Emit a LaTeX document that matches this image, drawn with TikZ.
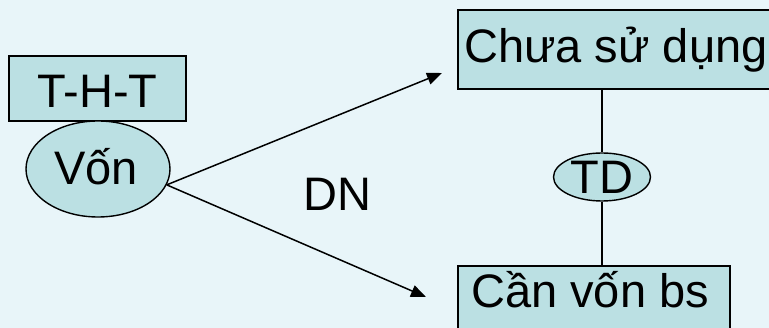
\documentclass[tikz,border=0pt]{standalone}
\usepackage{fontspec}
\setmainfont{Liberation Sans}
\usetikzlibrary{shapes.geometric,arrows.meta}
\definecolor{bgc}{RGB}{232,245,249}
\definecolor{fillc}{RGB}{187,224,227}
\tikzset{
  boxnode/.style={draw=black, line width=2.4pt, fill=fillc, inner sep=0pt},
  ellnode/.style={ellipse, draw=black, line width=1.4pt, fill=fillc, inner sep=0pt},
  arr/.style={line width=1.5pt, -{Triangle[length=15pt,width=12pt]}},
  link/.style={line width=2pt},
  lbl/.style={font=\fontsize{47}{50}\selectfont, inner sep=0pt}
}
\begin{document}
\begin{tikzpicture}[x=1pt,y=-1pt]
\useasboundingbox (0,0) rectangle (769,328);
\clip (0,0) rectangle (769,328);
\fill[bgc] (0,0) rectangle (769,328);
\node[boxnode, minimum width=177pt, minimum height=65pt] (tht) at (97.5,88.5) {};
\node[lbl, anchor=base] (thtt) at (97.5,108) {T-H-T};
\node[ellnode, minimum width=144pt, minimum height=96pt] (von) at (98,169) {};
\node[lbl, anchor=base] (vont) at (96,185) {Vốn};
\node[boxnode, anchor=north west, minimum width=340pt, minimum height=79pt] (chua) at (457,9) {};
\node[lbl, anchor=base west] (chuat) at (464,63) {Chưa sử dụng};
\node[ellnode, minimum width=97pt, minimum height=48pt] (td) at (602,177) {};
\node[lbl, anchor=base] (tdt) at (602,194) {TD};
\node[boxnode, anchor=north west, minimum width=272pt, minimum height=90pt] (can) at (457,265) {};
\node[lbl, anchor=base west] (cant) at (471,308) {Cần vốn bs};
\node[lbl, anchor=base west] (dn) at (303,211) {DN};
\coordinate (t1) at (442,73);
\coordinate (t2) at (426,297);
\draw[arr] (von.-13) -- (t1);
\draw[arr] (von.-13) -- (t2);
\draw[link] (chua.south west -| td.north) -- (td.north);
\draw[link] (td.south) -- (can.north west -| td.south);
\end{tikzpicture}
\end{document}
